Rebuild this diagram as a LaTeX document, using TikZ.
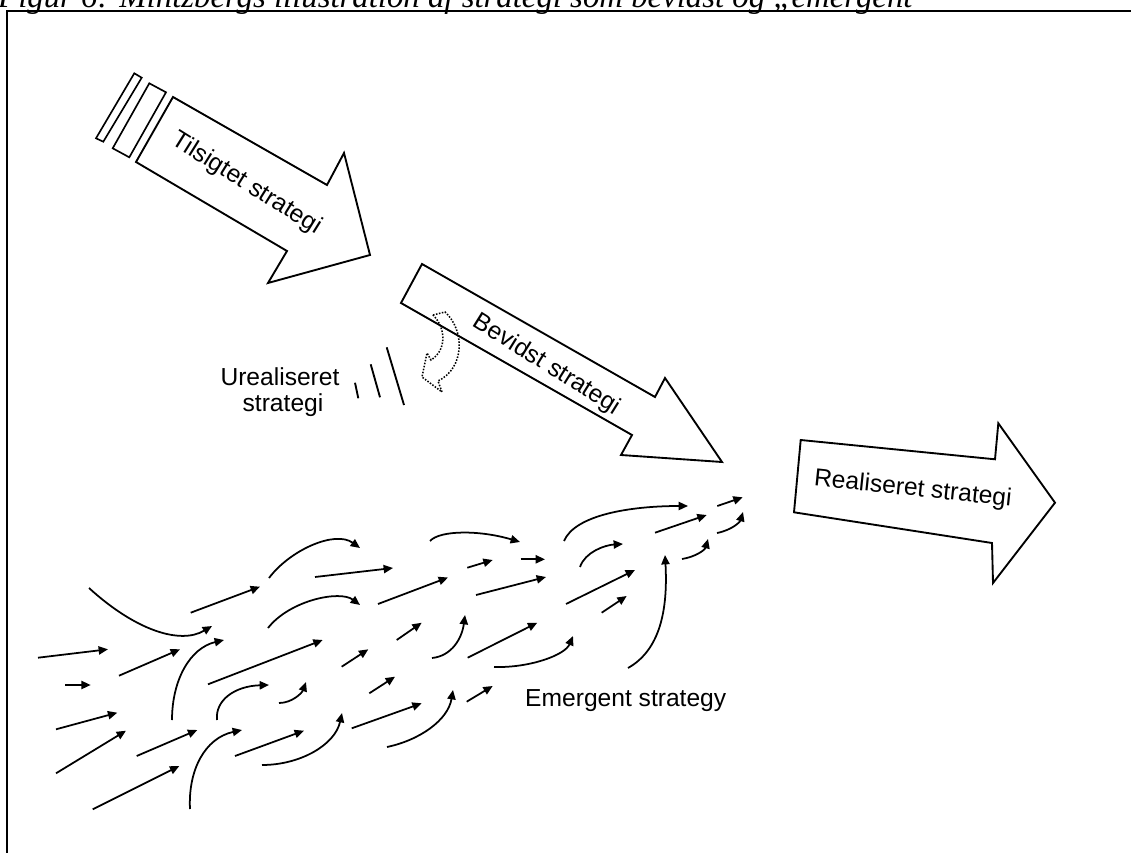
\documentclass[tikz,border=0pt]{standalone}
\usepackage{fontspec}
\setmainfont{Liberation Sans}
\newfontfamily\capfont{Liberation Serif}
\usetikzlibrary{arrows.meta}
\begin{document}
\begin{tikzpicture}[x=0.03cm,y=-0.03cm,
  bigarrow/.style={draw=black, line width=1.6pt, line join=miter, fill=white},
  stripe/.style={draw=black, line width=1.4pt, line join=miter},
  lbl/.style={font=\fontsize{21}{24}\selectfont, inner sep=0pt},
  flow/.style={line width=1.5pt, -{Triangle[length=8pt,width=7pt]}},
  frame/.style={line width=2pt},
  dotarrow/.style={line width=1.3pt, dash pattern=on 1.3pt off 1.3pt, line join=miter},
  tick/.style={line width=1.6pt}]
\useasboundingbox (0,0) rectangle (1131,853);
\fill[white] (0,0) rectangle (1131,853);
% caption and frame
\node[anchor=base west, inner sep=0pt, font=\capfont\itshape\fontsize{28}{30}\selectfont] (caption) at (-2,7.5) {Figur 6: Mintzbergs illustration af strategi som bevidst og „emergent”};
\draw[frame] (7,880) -- (7,11) -- (1150,11);
% Tilsigtet strategi
\draw[stripe] (134.3,73.3) -- (141.7,77.7) -- (103.3,141.7) -- (96,138.3) -- cycle;
\draw[stripe] (149.3,83.3) -- (166,92.3) -- (129.3,157.3) -- (112.7,148.3) -- cycle;
\draw[bigarrow] (173,97) -- (327,185) -- (344,153) -- (370,255) -- (268,283) -- (287,251) -- (136,162) -- cycle;
\node[lbl, rotate=-32] (tilsigtet) at (246.5,184) {Tilsigtet strategi};
% Bevidst strategi
\draw[bigarrow] (422,264) -- (655,397) -- (665,378) -- (722,462) -- (621,455) -- (632,435) -- (401,303) -- cycle;
\node[lbl, rotate=-32] (bevidst) at (546.5,365) {Bevidst strategi};
% dotted curved arrow
\draw[dotarrow] (433,315) -- (445,312) .. controls (465,330) and (465,368) .. (438,381)
  -- (442,392) -- (422,377) -- (427,353) -- (431,360) .. controls (447,350) and (446,328) .. cycle;
% Urealiseret strategi
\draw[tick] (355,382.7) -- (358.3,398.3);
\draw[tick] (370.7,364.3) -- (380,397.3);
\draw[tick] (386.7,347.3) -- (404,405);
\node[lbl, anchor=base] (ureal1) at (280,385) {Urealiseret};
\node[lbl, anchor=base] (ureal2) at (283,411) {strategi};
% Realiseret strategi
\draw[bigarrow] (800.7,440) -- (995,459.3) -- (998.3,423.3) -- (1055,502.7) -- (993,583) -- (992,543) -- (794,512.3) -- cycle;
\node[lbl, rotate=-6] (realiseret) at (912.8,489.5) {Realiseret strategi};
% Emergent strategy
\node[lbl, anchor=base west] (emergent) at (525,706) {Emergent strategy};
% small flow arrows - straight
\draw[flow] (190.7,612.7) -- (260,586.7);
\draw[flow] (315,577) -- (393,568);
\draw[flow] (378,604) -- (448,577.5);
\draw[flow] (476,595) -- (546,577);
\draw[flow] (38,657.7) -- (108,649.3);
\draw[flow] (119,675.7) -- (180,649.3);
\draw[flow] (208,684.3) -- (322.7,640);
\draw[flow] (65,685) -- (90.7,685);
\draw[flow] (341.7,666.7) -- (368.3,649.3);
\draw[flow] (396.7,640) -- (421.7,622.7);
\draw[flow] (467.7,657.7) -- (537.3,622.7);
\draw[flow] (56,729.3) -- (117.3,712.7);
\draw[flow] (56,773.3) -- (126,730.7);
\draw[flow] (136.7,756) -- (197.3,730);
\draw[flow] (235,756) -- (304,730.7);
\draw[flow] (92.7,809.3) -- (179.3,766);
\draw[flow] (369.3,693.3) -- (395,676.7);
\draw[flow] (466.7,701.7) -- (492.7,686);
\draw[flow] (351.7,728.3) -- (421.7,703.3);
\draw[flow] (717.3,506) -- (742.7,497.3);
\draw[flow] (655,532.7) -- (706.7,515);
\draw[flow] (467.3,567.7) -- (492.7,560);
\draw[flow] (520.7,559.3) -- (545,559.3);
\draw[flow] (566,604) -- (635,570);
\draw[flow] (601.7,612.7) -- (626.7,596);
% small flow arrows - curved
\draw[flow] (89,588) .. controls (135,630) and (180,645) .. (212,626);
\draw[flow] (269,578) .. controls (290,550) and (335,530) .. (360,548);
\draw[flow] (268,628) .. controls (290,600) and (340,590) .. (360,605);
\draw[flow] (172,720) .. controls (172,680) and (190,648) .. (224,640);
\draw[flow] (217,720) .. controls (215,700) and (235,686) .. (269,685);
\draw[flow] (279,703) .. controls (292,703) and (302,693) .. (306,682);
\draw[flow] (190,809) .. controls (188,770) and (205,738) .. (242,730);
\draw[flow] (262,765) .. controls (300,765) and (335,745) .. (342,713);
\draw[flow] (432,658) .. controls (452,656) and (462,638) .. (465,615);
\draw[flow] (494,667) .. controls (530,668) and (565,655) .. (573,636);
\draw[flow] (387,747) .. controls (420,740) and (448,720) .. (453,690);
\draw[flow] (564,541) .. controls (575,515) and (630,506) .. (688,506);
\draw[flow] (430,541) .. controls (440,530) and (480,530) .. (520,542);
\draw[flow] (717,533) .. controls (732,530) and (740,522) .. (743,512);
\draw[flow] (580,567) .. controls (585,552) and (605,545) .. (623,544);
\draw[flow] (682,559) .. controls (695,557) and (705,550) .. (708,539);
\draw[flow] (628,668) .. controls (660,650) and (668,610) .. (665,555);
\end{tikzpicture}
\end{document}
